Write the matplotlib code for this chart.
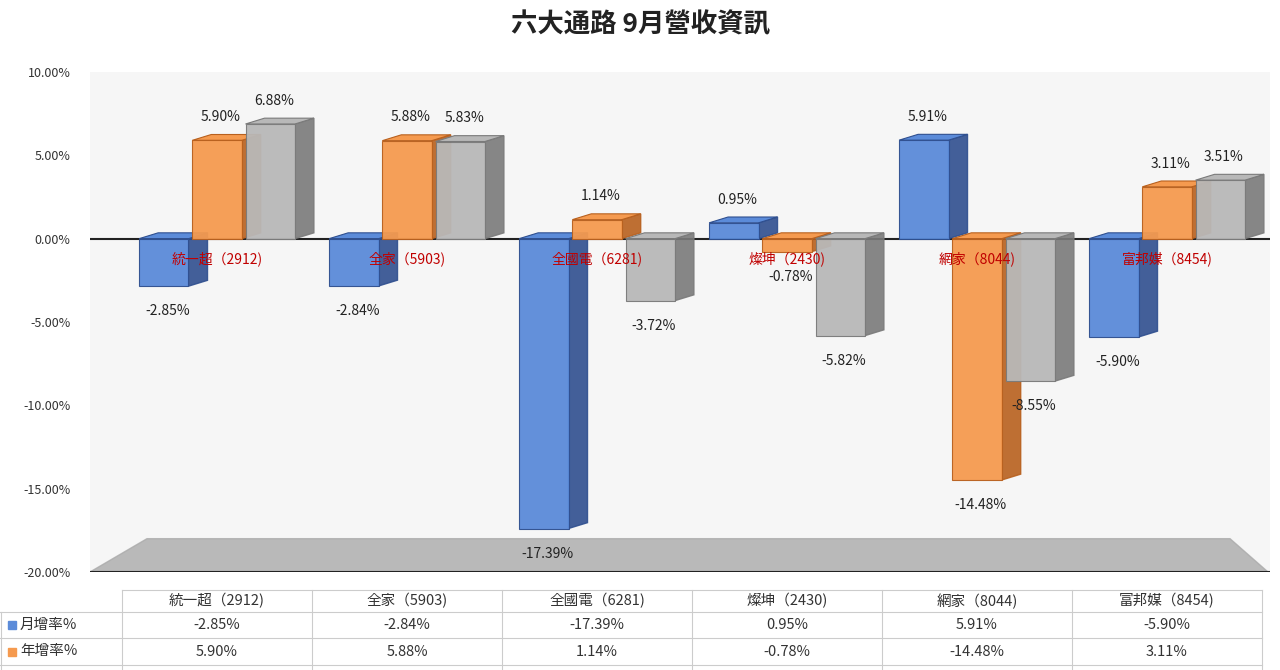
import matplotlib
matplotlib.use("Agg")
import matplotlib.pyplot as plt
from matplotlib import font_manager
from matplotlib.patches import Polygon, Rectangle
import numpy as np

names = {f.name for f in font_manager.fontManager.ttflist}
cjk = [n for n in ["Noto Sans CJK TC", "Noto Sans CJK JP", "Noto Sans CJK SC", "Noto Sans CJK KR"] if n in names]
if not cjk:
    for f in font_manager.findSystemFonts():
        if "CJK" in f:
            font_manager.fontManager.addfont(f)
    names = {f.name for f in font_manager.fontManager.ttflist}
    cjk = [n for n in names if "CJK" in n]
plt.rcParams['font.family'] = cjk + ['DejaVu Sans']

categories = ["統一超（2912)", "全家（5903)", "全國電（6281)", "燦坤（2430)", "網家（8044)", "富邦媒（8454)"]
mom = [-2.85, -2.84, -17.39, 0.95, 5.91, -5.90]
yoy = [5.90, 5.88, 1.14, -0.78, -14.48, 3.11]
cum = [6.88, 5.83, -3.72, -5.82, -8.55, 3.51]
series_names = ["月增率%", "年增率%", "累計%"]
colors = ["#5b8bd9", "#f59a4f", "#b8b8b8"]
sides = ["#2f4f8f", "#b8601e", "#7a7a7a"]

W, H = 1280, 670
fig = plt.figure(figsize=(W/100, H/100), dpi=100)
fig.patch.set_facecolor("white")
ax = fig.add_axes([90/W, 1-572/H, 1180/W, 500/H])
x0 = -(217-90)/190
ax.set_xlim(x0, x0 + 1180/190)
ax.set_ylim(-20, 10)
ax.set_facecolor("#f6f6f6")
for s in ax.spines.values():
    s.set_visible(False)
ax.set_xticks([])
ax.set_yticks(np.arange(-20, 11, 5))
ax.set_yticklabels([f"{v:.2f}%" for v in np.arange(-20, 11, 5)], fontsize=9, color="#333")
ax.tick_params(axis='y', length=0, pad=14)
ax.axhline(0, color="#222", lw=1.5, zorder=1)
ax.axhline(-20, color="#222", lw=1.5, zorder=1)
ax.add_patch(Polygon([[x0+0.3, -18], [x0+6.0, -18], [x0+6.2, -20], [x0, -20]],
                     closed=True, color="#aaaaaa", alpha=0.8, zorder=0))

bw = 0.26
dx, dy = 0.1, 0.35
offs = [-0.28, 0.0, 0.28]
series = [mom, yoy, cum]
for si, vals in enumerate(series):
    for i, v in enumerate(vals):
        xl = i + offs[si] - bw/2
        z = 3 + si
        ax.add_patch(Polygon([[xl+bw, 0], [xl+bw+dx, dy], [xl+bw+dx, v+dy], [xl+bw, v]],
                             closed=True, fc=sides[si], ec=sides[si], alpha=0.9, zorder=z))
        top = max(v, 0)
        ax.add_patch(Polygon([[xl, top], [xl+dx, top+dy], [xl+bw+dx, top+dy], [xl+bw, top]],
                             closed=True, fc=colors[si], ec=sides[si], lw=0.8, zorder=z))
        ax.add_patch(Rectangle((xl, min(0, v)), bw, abs(v), fc=colors[si], ec=sides[si],
                               lw=0.8, alpha=0.95, zorder=z))
        ty = v + (1.4 if v >= 0 else -1.5)
        ax.text(xl + bw/2 + 0.02, ty, f"{v:.2f}%", ha="center", va="center", fontsize=10,
                color="#222", zorder=10)
for i, c in enumerate(categories):
    ax.text(i, -1.2, c, ha="center", va="center", fontsize=10, color="#c00000", zorder=11)

fig.text(0.5, 1-25/H, "六大通路 9月營收資訊", ha="center", va="center", fontsize=19,
         fontweight="bold", color="#222")

rows_y = [590, 612, 638, 665]
xs = [122 + 190*i for i in range(7)]
for y in rows_y:
    fig.add_artist(plt.Line2D([0 if y > 600 else 122/W, xs[-1]/W], [1-y/H, 1-y/H], color="#ccc", lw=0.8))
for x in xs:
    fig.add_artist(plt.Line2D([x/W, x/W], [1-590/H, 0], color="#ccc", lw=0.8))
fig.add_artist(plt.Line2D([0.001, 0.001], [1-612/H, 0], color="#ccc", lw=0.8))
for i, c in enumerate(categories):
    fig.text((xs[i]+95)/W, 1-601/H, c, ha="center", va="center", fontsize=10.5, color="#333")
for r, vals in enumerate([mom, yoy]):
    yc = 1 - (rows_y[r+1] + rows_y[r+2]) / 2 / H
    fig.add_artist(Rectangle((8/W, yc-4/H), 8/W, 8/H, color=colors[r], transform=fig.transFigure))
    fig.text(20/W, yc, series_names[r], ha="left", va="center", fontsize=10.5, color="#333")
    for i, v in enumerate(vals):
        fig.text((xs[i]+95)/W, yc, f"{v:.2f}%", ha="center", va="center", fontsize=10.5, color="#333")

fig.savefig("out.png", dpi=100)
